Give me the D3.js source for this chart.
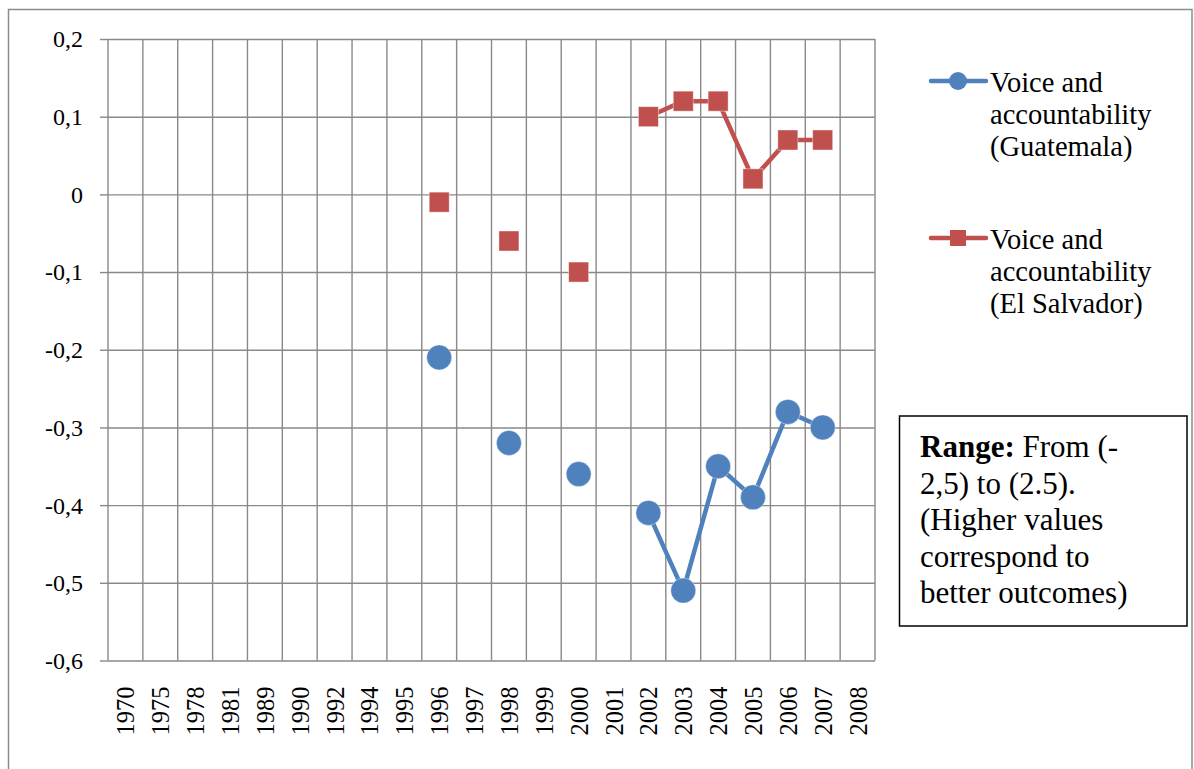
<!DOCTYPE html>
<html>
<head>
<meta charset="utf-8">
<script src="https://cdn.jsdelivr.net/npm/d3@7"></script>
<style>
  html, body { margin: 0; padding: 0; background: #fff; }
  svg { display: block; }
</style>
</head>
<body>
<svg id="chart" width="1194" height="769" font-family="'Liberation Serif'"></svg>
<script>
const categories = ["1970","1975","1978","1981","1989","1990","1992","1994","1995","1996","1997","1998","1999","2000","2001","2002","2003","2004","2005","2006","2007","2008"];
const guatemala = [null,null,null,null,null,null,null,null,null,-0.21,null,-0.32,null,-0.36,null,-0.41,-0.51,-0.35,-0.39,-0.28,-0.30,null];
const elSalvador = [null,null,null,null,null,null,null,null,null,-0.01,null,-0.06,null,-0.10,null,0.10,0.12,0.12,0.02,0.07,0.07,null];
const yTicks = [0.2,0.1,0,-0.1,-0.2,-0.3,-0.4,-0.5,-0.6];
const yTickLabels = ["0,2","0,1","0","-0,1","-0,2","-0,3","-0,4","-0,5","-0,6"];
const seriesNames = [["Voice and","accountability","(Guatemala)"],["Voice and","accountability","(El Salvador)"]];
const seriesColors = ["#4F81BD","#C0504D"];
const noteLines = ["From (-","2,5) to (2.5).","(Higher values","correspond to","better outcomes)"];

const FONT = "'Liberation Serif'";
const svg = d3.select("#chart");
const plot = {left: 108, right: 875, top: 39, bottom: 660.5};

// outer border
svg.append("rect").attr("x", 8.5).attr("y", 9.5).attr("width", 1183.5).attr("height", 780)
  .attr("fill", "none").attr("stroke", "#8c8c8c").attr("stroke-width", 1.5);

const x = d3.scaleBand().domain(categories).range([plot.left, plot.right]).padding(0);
const y = d3.scaleLinear().domain([-0.6, 0.2]).range([plot.bottom, plot.top]);
const gridColor = "#898989";

// horizontal gridlines + y ticks
const gy = svg.append("g").attr("transform", `translate(${plot.left},0)`)
  .call(d3.axisLeft(y).tickValues(yTicks).tickSize(8).tickPadding(17)
    .tickFormat((d, i) => yTickLabels[i]));
gy.attr("font-family", FONT);
gy.select(".domain").remove();
gy.selectAll(".tick line").attr("stroke", gridColor).attr("stroke-width", 1.4);
gy.selectAll(".tick text").attr("font-size", 24).attr("dy", "0.33em").attr("font-family", FONT).attr("fill", "#000");
gy.selectAll(".tick").append("line").attr("x1", 0).attr("x2", plot.right - plot.left)
  .attr("stroke", gridColor).attr("stroke-width", 1.4);

// vertical gridlines at category boundaries
const bounds = categories.map(c => x(c)).concat([x(categories[categories.length-1]) + x.bandwidth()]);
svg.append("g").selectAll("line").data(bounds).join("line")
  .attr("x1", d => d).attr("x2", d => d).attr("y1", plot.top).attr("y2", plot.bottom)
  .attr("stroke", gridColor).attr("stroke-width", 1.4);

// x labels rotated
const gx = svg.append("g").attr("transform", `translate(0,${plot.bottom})`)
  .call(d3.axisBottom(x).tickSize(0).tickPadding(0));
gx.attr("font-family", FONT);
gx.select(".domain").remove();
gx.selectAll(".tick text")
  .attr("font-size", 24.5).attr("font-family", FONT).attr("fill", "#000")
  .attr("text-anchor", "end")
  .attr("transform", "translate(9,26) rotate(-90)")
  .attr("x", 0).attr("y", 0).attr("dy", 0);

// series
const cx = c => x(c) + x.bandwidth() / 2;
const line = d3.line().defined(d => d.v !== null).x(d => cx(d.c)).y(d => y(d.v));
const data = [guatemala, elSalvador].map(arr => categories.map((c, i) => ({c, v: arr[i]})));

data.forEach((ser, si) => {
  svg.append("path").datum(ser).attr("d", line).attr("fill", "none")
    .attr("stroke", seriesColors[si]).attr("stroke-width", 4.5).attr("stroke-linejoin", "round");
});
svg.append("g").selectAll("circle").data(data[0].filter(d => d.v !== null)).join("circle")
  .attr("cx", d => cx(d.c)).attr("cy", d => y(d.v)).attr("r", 12.5)
  .attr("fill", seriesColors[0]).attr("stroke", "#fff").attr("stroke-opacity", 0.5).attr("stroke-width", 0.8);
svg.append("g").selectAll("rect").data(data[1].filter(d => d.v !== null)).join("rect")
  .attr("x", d => cx(d.c) - 10).attr("y", d => y(d.v) - 10).attr("width", 20).attr("height", 20)
  .attr("fill", seriesColors[1]).attr("stroke", "#fff").attr("stroke-opacity", 0.5).attr("stroke-width", 0.8);

// legend
const legendY = [81, 238];
seriesNames.forEach((lines, i) => {
  const g = svg.append("g");
  g.append("line").attr("x1", 931).attr("x2", 986).attr("y1", legendY[i]).attr("y2", legendY[i])
    .attr("stroke", seriesColors[i]).attr("stroke-width", 4.5).attr("stroke-linecap", "round");
  if (i === 0) {
    g.append("circle").attr("cx", 958).attr("cy", legendY[i]).attr("r", 9).attr("fill", seriesColors[i]);
  } else {
    g.append("rect").attr("x", 950).attr("y", legendY[i] - 8).attr("width", 16).attr("height", 16).attr("fill", seriesColors[i]);
  }
  lines.forEach((t, j) => {
    g.append("text").attr("x", 990).attr("y", legendY[i] + 11 + j * 32)
      .attr("font-family", FONT).attr("font-size", 28.5).text(t);
  });
});

// note box
svg.append("rect").attr("x", 899.5).attr("y", 416).attr("width", 287.5).attr("height", 210)
  .attr("fill", "#fff").attr("stroke", "#000").attr("stroke-width", 1.5);
const note = svg.append("g");
noteLines.forEach((t, j) => {
  const tx = note.append("text").attr("x", 920).attr("y", 457 + j * 36.5)
    .attr("font-family", FONT).attr("font-size", 31);
  if (j === 0) {
    tx.append("tspan").attr("font-weight", "bold").text("Range:");
    tx.append("tspan").text(" " + t);
  } else {
    tx.text(t);
  }
});
</script>
</body>
</html>
